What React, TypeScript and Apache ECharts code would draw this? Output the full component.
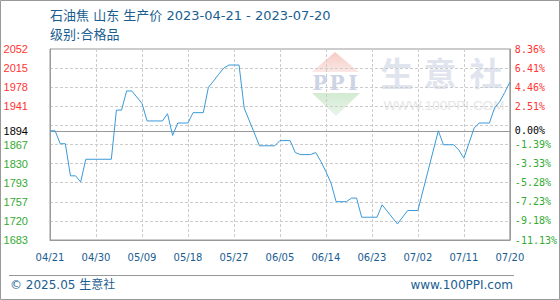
import React, { useEffect, useRef } from "react";
import * as echarts from "echarts";

// ---- data ----
const startDate = "2023-04-21";
const dayCount = 91;
const pointDates = [
  "04/21", "04/22", "04/23", "04/24", "04/25", "04/26", "04/27", "04/28",
  "05/03", "05/04", "05/05", "05/06", "05/07", "05/09", "05/10", "05/13",
  "05/14", "05/15", "05/16", "05/18", "05/19", "05/21", "05/22", "05/23",
  "05/24", "05/25", "05/26", "05/28", "05/29", "06/01", "06/04", "06/05",
  "06/07", "06/08", "06/09", "06/11", "06/12", "06/13", "06/14", "06/15",
  "06/16", "06/18", "06/19", "06/20", "06/21", "06/24", "06/25", "06/28",
  "06/30", "07/02", "07/06", "07/07", "07/09", "07/10", "07/11", "07/12",
  "07/13", "07/14", "07/16", "07/17", "07/18", "07/19", "07/20",
];
const prices = [
  1894, 1894, 1869, 1869, 1807, 1807, 1795, 1839,
  1839, 1934, 1934, 1971, 1971, 1947, 1913, 1913,
  1927, 1885, 1909, 1909, 1929, 1929, 1978, 1990,
  2003, 2015, 2021, 2021, 1938, 1865, 1865, 1875,
  1875, 1852, 1848, 1848, 1852, 1835, 1815, 1793,
  1757, 1757, 1764, 1764, 1727, 1727, 1751, 1714,
  1740, 1740, 1894, 1867, 1867, 1857, 1841, 1870,
  1899, 1909, 1909, 1938, 1950, 1968, 1988,
];
const basePrice = 1894;
const yMin = 1683;
const yMax = 2052;
const leftTickLabels = ["1683", "1720", "1757", "1793", "1830", "1867", "", "1941", "1978", "2015", "2052"];
const rightTickLabels = ["-11.13%", "-9.18%", "-7.23%", "-5.28%", "-3.33%", "-1.39%", "", "2.51%", "4.46%", "6.41%", "8.36%"];
const baseLeftLabel = "1894";
const baseRightLabel = "0.00%";
const titleText = "石油焦 山东 生产价 2023-04-21 - 2023-07-20";
const subtitleText = "级别:合格品";
const footerLeft = "© 2025.05 生意社";
const footerRight = "www.100PPI.com";

const BLUE = "#1a5e91";
const RED = "#ff3333";
const GREEN = "#33aa33";

function buildCategories(): string[] {
  const out: string[] = [];
  const d0 = new Date(startDate + "T00:00:00Z");
  for (let i = 0; i < dayCount; i++) {
    const d = new Date(d0.getTime() + i * 86400000);
    const mm = String(d.getUTCMonth() + 1).padStart(2, "0");
    const dd = String(d.getUTCDate()).padStart(2, "0");
    out.push(mm + "/" + dd);
  }
  return out;
}

export default function App() {
  const ref = useRef<HTMLDivElement>(null);
  useEffect(() => {
    document.body.style.margin = "0";
    if (!ref.current) return;
    const chart = echarts.init(ref.current, null, { renderer: "svg" });
    const categories = buildCategories();
    const map: Record<string, number> = {};
    pointDates.forEach((d, i) => (map[d] = prices[i]));
    const seriesData = categories.map((c) => (c in map ? map[c] : null));

    const leftFont = { fontFamily: "Liberation Sans, Arial, sans-serif", fontSize: 11 };
    const rightFont = { fontFamily: "DejaVu Sans Mono, monospace", fontSize: 10 };

    const option: any = {
      animation: false,
      grid: {
        left: 50, top: 49, width: 460, height: 191,
        show: true, borderColor: "#999", borderWidth: 1,
      },
      xAxis: {
        type: "category",
        data: categories,
        boundaryGap: false,
        axisLine: { show: true, lineStyle: { color: "#999" } },
        axisTick: { show: false },
        axisLabel: {
          interval: 8, margin: 12, color: BLUE,
          fontFamily: "DejaVu Sans, sans-serif", fontSize: 10,
        },
        splitLine: { show: true, interval: 8, lineStyle: { color: "#ccc", type: [3, 2], width: 1 } },
      },
      yAxis: [
        { type: "value", min: yMin, max: yMax, show: false },
        {
          type: "value", min: 0, max: 10, interval: 1, position: "left",
          axisLine: { show: true, lineStyle: { color: "#999" } },
          axisTick: { show: false },
          splitLine: { show: true, lineStyle: { color: "#ccc", type: [3, 2], width: 1 } },
          axisLabel: {
            margin: 22, align: "right",
            formatter: (v: number) => {
              const i = Math.round(v);
              const t = leftTickLabels[i];
              if (!t) return "";
              return (i > 6 ? "{r|" : "{g|") + t + "}";
            },
            rich: { r: { color: RED, ...leftFont }, g: { color: GREEN, ...leftFont } },
          },
        },
        {
          type: "value", min: 0, max: 10, interval: 1, position: "right",
          axisLine: { show: true, lineStyle: { color: "#999" } },
          axisTick: { show: false },
          splitLine: { show: false },
          axisLabel: {
            margin: 5, align: "left",
            formatter: (v: number) => {
              const i = Math.round(v);
              const t = rightTickLabels[i];
              if (!t) return "";
              return (i > 6 ? "{r|" : "{g|") + t + "}";
            },
            rich: { r: { color: RED, ...rightFont }, g: { color: GREEN, ...rightFont } },
          },
        },
      ],
      series: [
        {
          type: "line",
          yAxisIndex: 0,
          data: seriesData,
          connectNulls: true,
          showSymbol: false,
          symbol: "none",
          lineStyle: { color: "#3a99d8", width: 1 },
          z: 5,
          markLine: {
            silent: true,
            symbol: ["none", "none"],
            lineStyle: { color: "#999", type: "solid", width: 1.2 },
            data: [
              {
                yAxis: basePrice,
                label: { show: true, position: "start", distance: 22, formatter: baseLeftLabel, color: "#000", ...leftFont },
              },
              {
                yAxis: basePrice,
                label: { show: true, position: "end", distance: 5, formatter: baseRightLabel, color: "#000", ...rightFont },
              },
            ],
          },
        },
      ],
      graphic: [
        // outer frame
        { type: "rect", z: -20, shape: { x: 0.5, y: 0.5, width: 559, height: 299 }, style: { fill: "#fff", stroke: "#999", lineWidth: 1 } },
        // watermark logo
        {
          type: "polygon", z: -10,
          shape: { points: [[335, 52], [359, 72], [312, 72]] },
          style: { fill: new echarts.graphic.LinearGradient(0, 0, 0, 1, [{ offset: 0, color: "#f6cbc4" }, { offset: 1, color: "#fbe8e5" }]) },
        },
        {
          type: "polygon", z: -10,
          shape: { points: [[312, 93], [360, 93], [336, 116]] },
          style: { fill: new echarts.graphic.LinearGradient(0, 0, 0, 1, [{ offset: 0, color: "#d2ead2" }, { offset: 1, color: "#e9f5e9" }]) },
        },
        { type: "text", z: -10, style: { text: "P", x: 320, y: 83, align: "center", verticalAlign: "middle", fill: "#ccd4e6", font: "bold 20px 'DejaVu Serif', serif" } },
        { type: "text", z: -10, style: { text: "P", x: 337, y: 83, align: "center", verticalAlign: "middle", fill: "#ccd4e6", font: "bold 20px 'DejaVu Serif', serif" } },
        { type: "text", z: -10, style: { text: "I", x: 353, y: 83, align: "center", verticalAlign: "middle", fill: "#ccd4e6", font: "bold 20px 'DejaVu Serif', serif" } },
        { type: "text", z: -10, style: { text: "生", x: 397, y: 72, align: "center", verticalAlign: "middle", fill: "#dfe4ee", font: "bold 33px 'Noto Sans CJK SC', sans-serif" } },
        { type: "text", z: -10, style: { text: "意", x: 440, y: 72, align: "center", verticalAlign: "middle", fill: "#dfe4ee", font: "bold 33px 'Noto Sans CJK SC', sans-serif" } },
        { type: "text", z: -10, style: { text: "社", x: 486, y: 72, align: "center", verticalAlign: "middle", fill: "#dfe4ee", font: "bold 33px 'Noto Sans CJK SC', sans-serif" } },
        { type: "text", z: -10, style: { text: "WWW.100PPI.COM", x: 444, y: 105, align: "center", verticalAlign: "middle", fill: "#e6e6e6", font: "13.5px 'Liberation Sans', Arial, sans-serif" } },
        // titles
        { type: "text", style: { text: titleText, x: 50, y: 15, align: "left", verticalAlign: "middle", fill: BLUE, font: "13px 'DejaVu Sans', 'Noto Sans CJK SC', sans-serif" } },
        { type: "text", style: { text: subtitleText, x: 50, y: 34, align: "left", verticalAlign: "middle", fill: BLUE, font: "13px 'DejaVu Sans', 'Noto Sans CJK SC', sans-serif" } },
        // footer
        { type: "line", shape: { x1: 9, y1: 275.5, x2: 514, y2: 275.5 }, style: { stroke: "#999", lineWidth: 1 } },
        { type: "text", style: { text: footerLeft, x: 10, y: 285, align: "left", verticalAlign: "middle", fill: BLUE, font: "12px 'DejaVu Sans', 'Noto Sans CJK SC', sans-serif" } },
        { type: "text", style: { text: footerRight, x: 513, y: 285, align: "right", verticalAlign: "middle", fill: BLUE, font: "12px 'DejaVu Sans', sans-serif" } },
      ],
    };
    chart.setOption(option);
    return () => chart.dispose();
  }, []);
  return <div ref={ref} style={{ width: 560, height: 300 }} />;
}
